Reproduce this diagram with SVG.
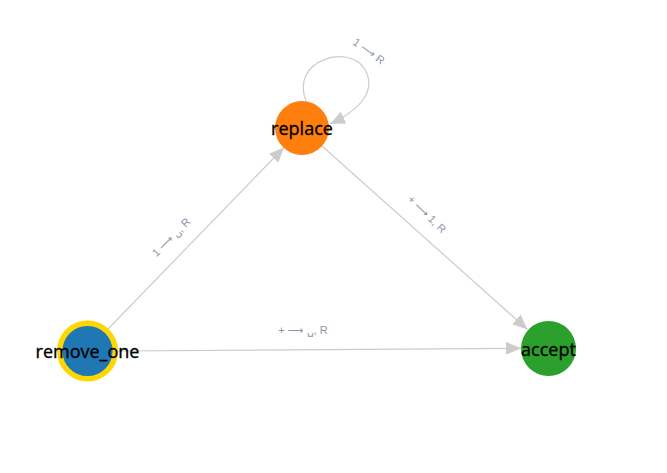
<svg xmlns="http://www.w3.org/2000/svg" width="667" height="473" viewBox="0 0 667 473">
  <style>
    .edge { fill: none; stroke: #cccccc; stroke-width: 1.2; }
    .elabel { font-family: "Liberation Sans", "DejaVu Sans", sans-serif; font-size: 11px; fill: #8a95a8; text-anchor: middle; dominant-baseline: central; }
    .nlabel { font-family: "Open Sans", "Noto Sans", sans-serif; font-size: 18px; fill: #000000; stroke: #000000; stroke-width: 0.35; text-anchor: middle; dominant-baseline: central; }
  </style>
  <defs>
    <marker id="arrow" markerUnits="userSpaceOnUse" markerWidth="16" markerHeight="14" refX="15" refY="6.5" orient="auto">
      <path d="M0,0 L15,6.5 L0,13 Z" fill="#cccccc"/>
    </marker>
  </defs>
  <rect width="667" height="473" fill="#ffffff"/>

  <g id="edges">
    <path class="edge" d="M108,329 L284,147.5" marker-end="url(#arrow)"/>
    <path class="edge" d="M322,146 L527.5,329.5" marker-end="url(#arrow)"/>
    <path class="edge" d="M117.5,351 L521,348.2" marker-end="url(#arrow)"/>
    <path class="edge" d="M306,101 C290,60 348,44 364,68 C378,90 360,110 330,124" marker-end="url(#arrow)"/>
    <text class="elabel" transform="translate(369,51) rotate(36)">1 ⟶ R</text>
    <text class="elabel" transform="translate(171,237) rotate(-45)">1 ⟶ ␣, R</text>
    <text class="elabel" transform="translate(427,214) rotate(44)">+ ⟶ 1, R</text>
    <text class="elabel" transform="translate(303,330)">+ ⟶ ␣, R</text>
  </g>

  <g id="remove_one">
    <circle cx="87.5" cy="351" r="27.8" fill="#1f77b4" stroke="#ffd700" stroke-width="5.5"/>
    <text class="nlabel" x="87.5" y="351">remove_one</text>
  </g>
  <g id="replace">
    <circle cx="302" cy="128" r="27" fill="#ff7f0e"/>
    <text class="nlabel" x="302" y="128">replace</text>
  </g>
  <g id="accept">
    <circle cx="548.5" cy="348.5" r="27.5" fill="#2ca02c"/>
    <text class="nlabel" x="548.5" y="348.5">accept</text>
  </g>
</svg>
